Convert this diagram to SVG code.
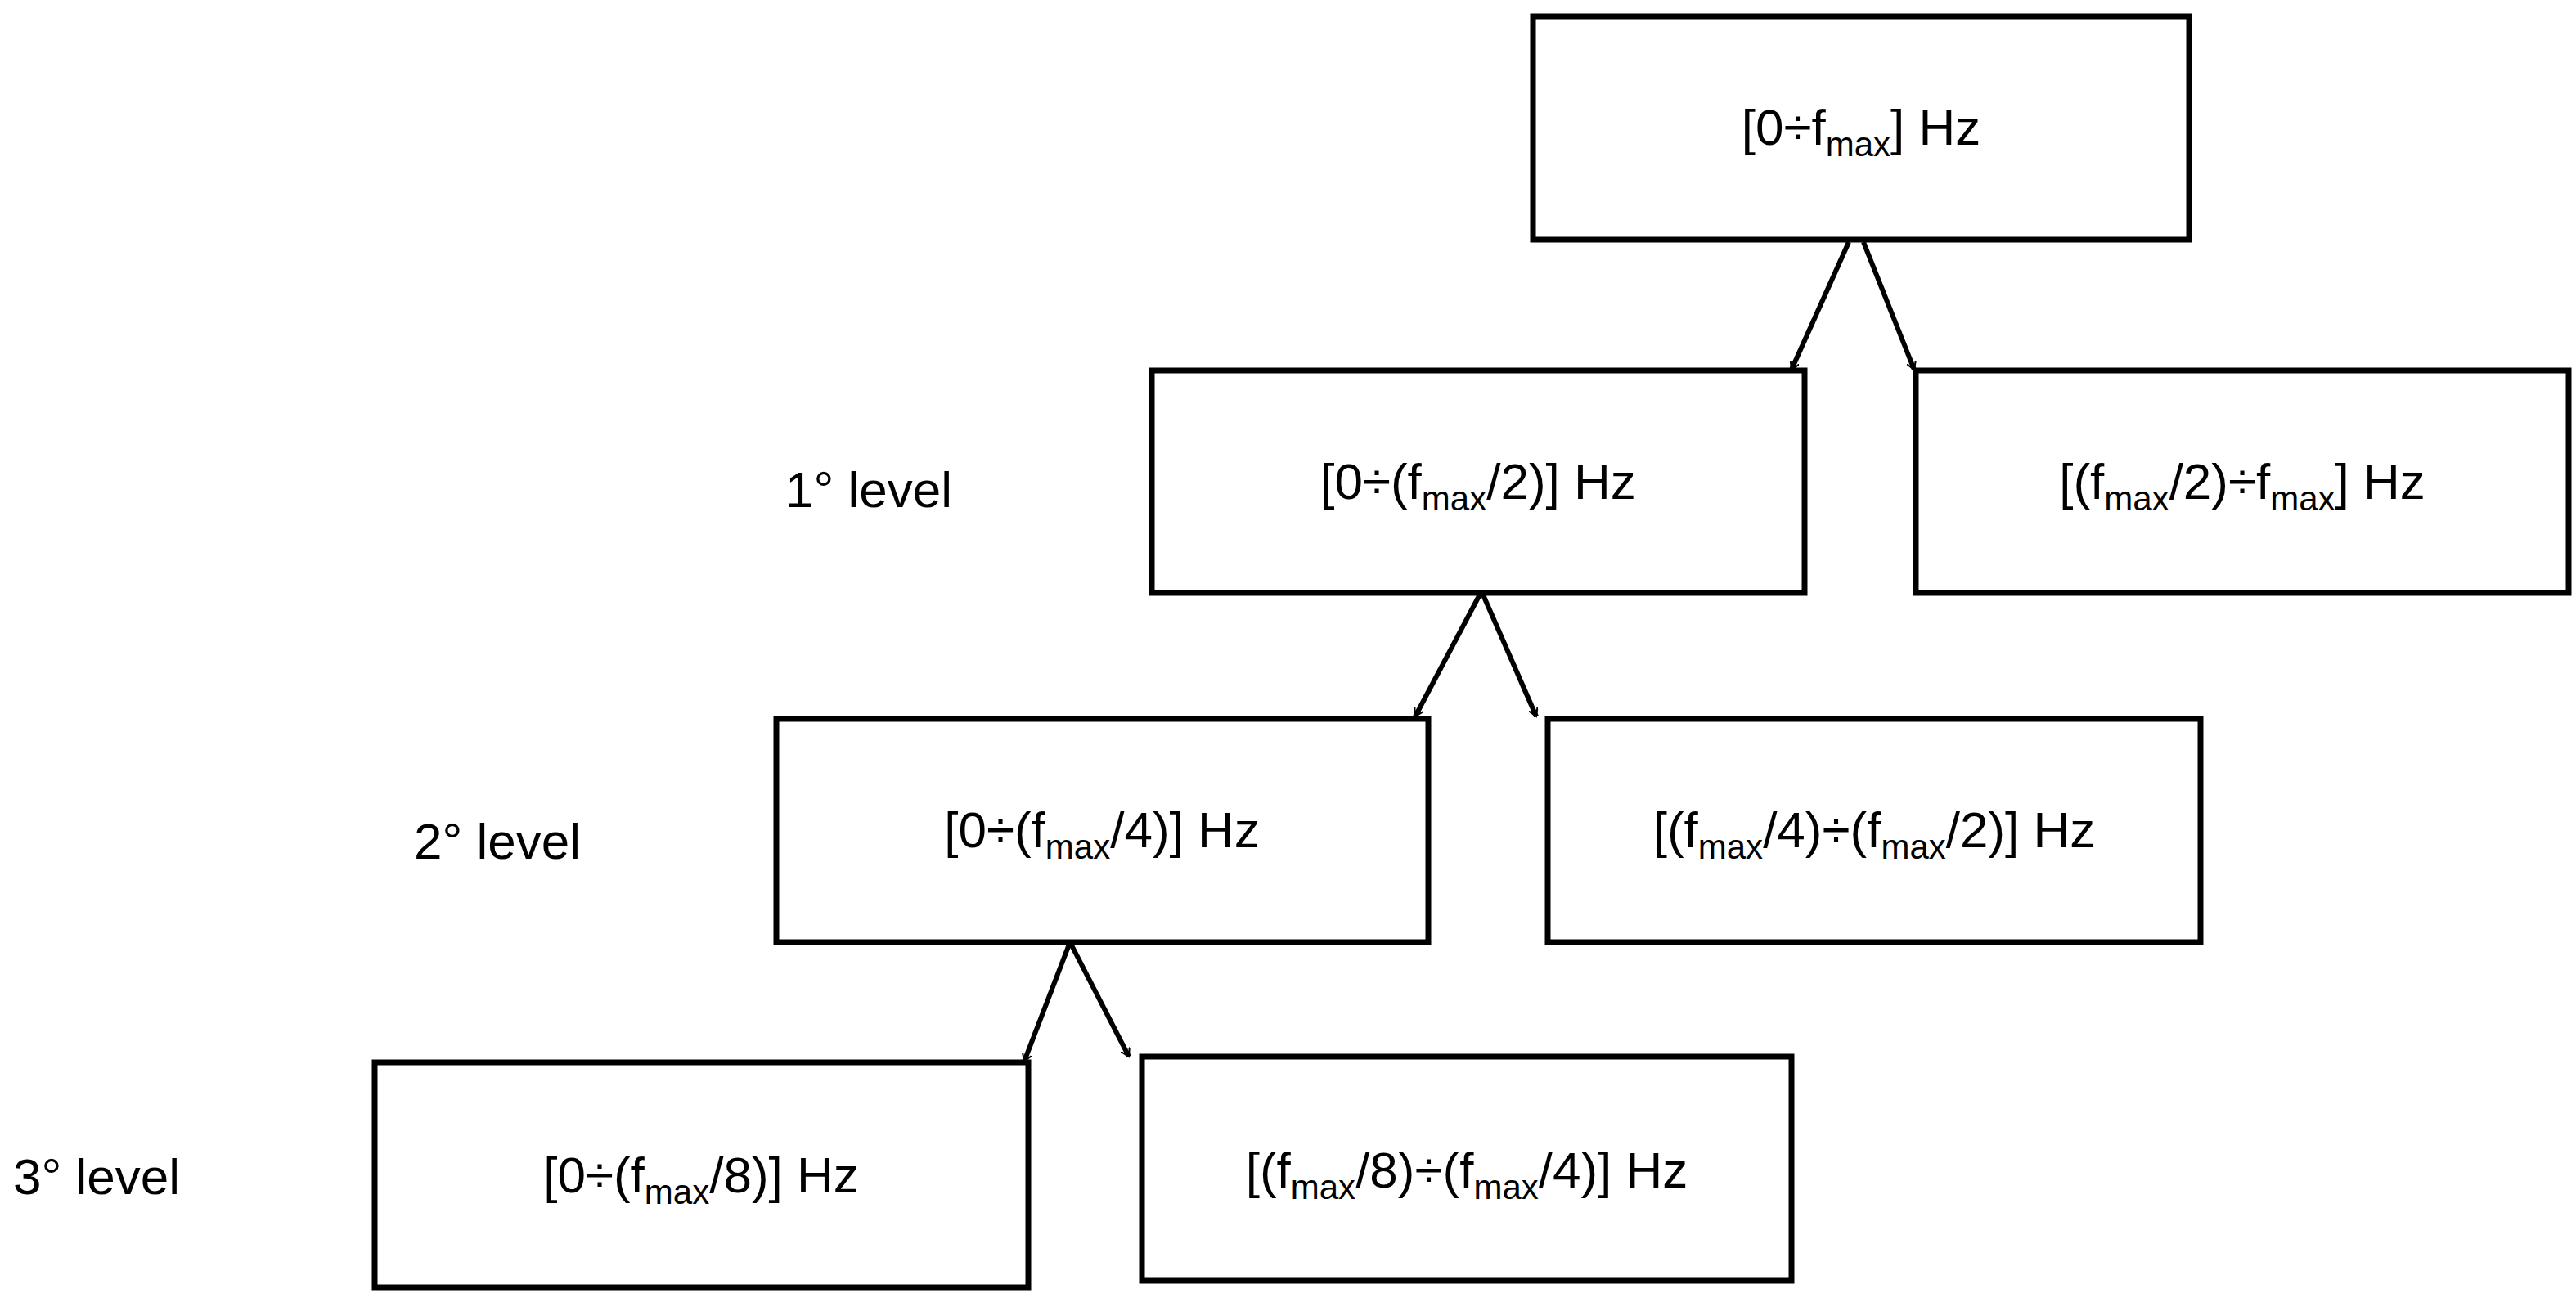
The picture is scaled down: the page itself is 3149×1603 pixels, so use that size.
<svg xmlns="http://www.w3.org/2000/svg" width="3149" height="1603" viewBox="0 0 3149 1603">
<style>
.b{fill:#fff;stroke:#000;stroke-width:7}
.t{font-family:"Liberation Sans",Arial,sans-serif;font-size:62px;fill:#000;text-anchor:middle}
.l{font-family:"Liberation Sans",Arial,sans-serif;font-size:62px;fill:#000}
.c{stroke:#000;stroke-width:6;fill:none;marker-end:url(#a)}
</style>
<defs><marker id="a" markerWidth="12" markerHeight="12" refX="10" refY="6" orient="auto" markerUnits="userSpaceOnUse" viewBox="0 0 12 12"><path d="M0,0 L10,6 L0,12" fill="none" stroke="#000" stroke-width="2"/></marker></defs>
<rect width="3149" height="1603" fill="#fff"/>
<g id="connectors">
<line class="c" x1="2260" y1="296" x2="2190" y2="452"/>
<line class="c" x1="2278" y1="296" x2="2340" y2="452"/>
<line class="c" x1="1810" y1="725" x2="1730" y2="876"/>
<line class="c" x1="1812" y1="725" x2="1878" y2="876"/>
<line class="c" x1="1308" y1="1152" x2="1252" y2="1298"/>
<line class="c" x1="1308" y1="1152" x2="1380" y2="1292"/>
</g>
<g id="n0"><rect class="b" x="1874" y="20" width="802" height="273"/><text class="t" x="2275" y="177">[0÷f<tspan font-size="42" dy="14">max</tspan><tspan dy="-14">] Hz</tspan></text></g>
<g id="n1"><rect class="b" x="1408" y="453" width="798" height="272"/><text class="t" x="1807" y="610">[0÷(f<tspan font-size="42" dy="14">max</tspan><tspan dy="-14">/2)] Hz</tspan></text></g>
<g id="n2"><rect class="b" x="2342" y="453" width="798" height="272"/><text class="t" x="2741" y="610">[(f<tspan font-size="42" dy="14">max</tspan><tspan dy="-14">/2)÷f</tspan><tspan font-size="42" dy="14">max</tspan><tspan dy="-14">] Hz</tspan></text></g>
<g id="n3"><rect class="b" x="949" y="879" width="797" height="273"/><text class="t" x="1347" y="1036">[0÷(f<tspan font-size="42" dy="14">max</tspan><tspan dy="-14">/4)] Hz</tspan></text></g>
<g id="n4"><rect class="b" x="1892" y="879" width="798" height="273"/><text class="t" x="2291" y="1036">[(f<tspan font-size="42" dy="14">max</tspan><tspan dy="-14">/4)÷(f</tspan><tspan font-size="42" dy="14">max</tspan><tspan dy="-14">/2)] Hz</tspan></text></g>
<g id="n5"><rect class="b" x="458" y="1299" width="799" height="275"/><text class="t" x="857" y="1458">[0÷(f<tspan font-size="42" dy="14">max</tspan><tspan dy="-14">/8)] Hz</tspan></text></g>
<g id="n6"><rect class="b" x="1396" y="1292" width="794" height="274"/><text class="t" x="1793" y="1452">[(f<tspan font-size="42" dy="14">max</tspan><tspan dy="-14">/8)÷(f</tspan><tspan font-size="42" dy="14">max</tspan><tspan dy="-14">/4)] Hz</tspan></text></g>
<g id="labels">
<text class="l" x="960" y="620">1° level</text>
<text class="l" x="506" y="1050">2° level</text>
<text class="l" x="16" y="1460">3° level</text>
</g>
</svg>
